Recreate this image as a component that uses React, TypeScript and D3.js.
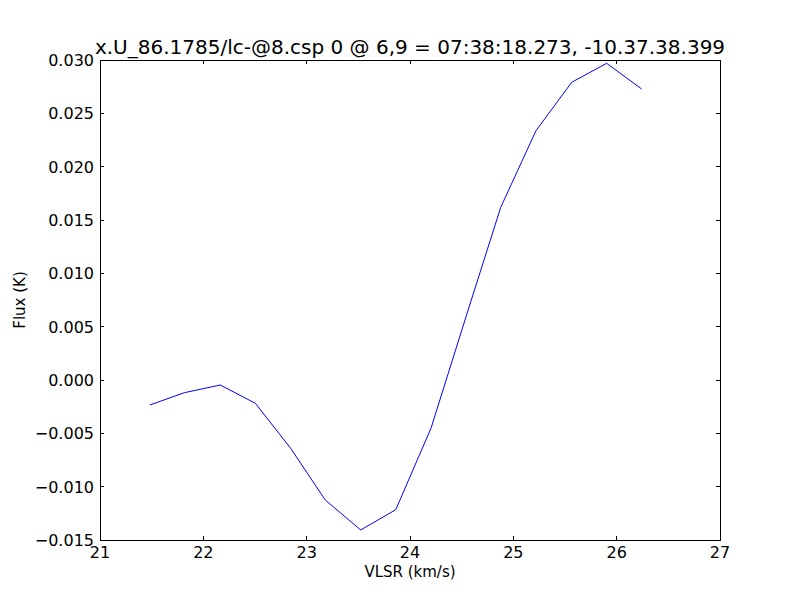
import * as d3 from "d3";

// spectrum
const vlsr = [21.484, 21.816, 22.164, 22.503, 22.845, 23.18, 23.523, 23.862, 24.203, 24.542, 24.878, 25.219, 25.565, 25.903, 26.242];
const flux = [-0.00234, -0.00119, -0.00047, -0.00218, -0.0064, -0.01125, -0.01406, -0.01216, -0.00453, 0.00593, 0.01619, 0.02337, 0.02791, 0.02969, 0.02728];
const xTicks = [21, 22, 23, 24, 25, 26, 27];
const yTicks = [-0.015, -0.01, -0.005, 0, 0.005, 0.01, 0.015, 0.02, 0.025, 0.03];
const title = "x.U_86.1785/lc-@8.csp 0 @ 6,9 = 07:38:18.273, -10.37.38.399";

const W = 800, H = 600;
const left = 100, right = 720, top = 60, bottom = 540;

export default function App() {
  const x = d3.scaleLinear().domain([21, 27]).range([left, right]);
  const y = d3.scaleLinear().domain([-0.015, 0.03]).range([bottom, top]);
  const line = d3.line<number>().x((_, i) => x(vlsr[i])).y(d => y(d));
  const fmt = d3.format(".3f"); // uses the U+2212 minus, like matplotlib
  const font = "'DejaVu Sans', sans-serif";

  return (
    <svg width={W} height={H} style={{ position: "absolute", left: 0, top: 0, background: "#fff" }} fontFamily={font}>
      <rect width={W} height={H} fill="#fff" />
      <path d={line(flux) ?? ""} fill="none" stroke="#0000ff" strokeWidth={1} />
      <rect x={left} y={top} width={right - left} height={bottom - top} fill="none" stroke="#000" strokeWidth={1} shapeRendering="crispEdges" />
      {xTicks.map(t => (
        <g key={t} shapeRendering="crispEdges">
          <line x1={x(t)} x2={x(t)} y1={bottom} y2={bottom - 4} stroke="#000" />
          <line x1={x(t)} x2={x(t)} y1={top} y2={top + 4} stroke="#000" />
          <text x={x(t)} y={bottom + 17.5} textAnchor="middle" fontSize={16}>{t}</text>
        </g>
      ))}
      {yTicks.map(t => (
        <g key={t} shapeRendering="crispEdges">
          <line x1={left} x2={left + 4} y1={y(t)} y2={y(t)} stroke="#000" />
          <line x1={right} x2={right - 4} y1={y(t)} y2={y(t)} stroke="#000" />
          <text x={left - 6} y={y(t) + 6} textAnchor="end" fontSize={16}>{fmt(t)}</text>
        </g>
      ))}
      <text x={(left + right) / 2} y={54} textAnchor="middle" fontSize={20}>{title}</text>
      <text x={(left + right) / 2} y={577} textAnchor="middle" fontSize={15}>VLSR (km/s)</text>
      <text transform={`translate(25,${(top + bottom) / 2}) rotate(-90)`} textAnchor="middle" fontSize={15}>Flux (K)</text>
    </svg>
  );
}
